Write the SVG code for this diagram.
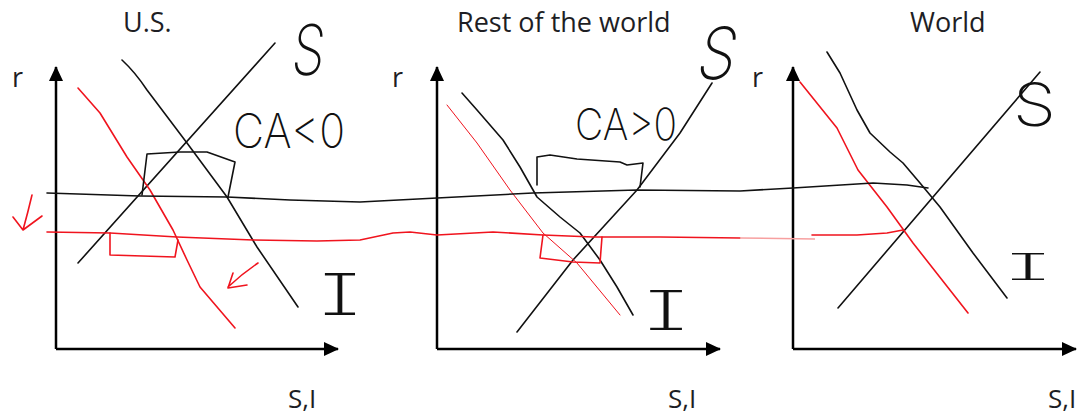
<svg xmlns="http://www.w3.org/2000/svg" width="1081" height="415" viewBox="0 0 1081 415">
<style>
.title{font-family:"Open Sans","Liberation Sans",sans-serif;font-size:27px;fill:#1e1e24}
.axl{font-family:"Open Sans","Liberation Sans",sans-serif;font-size:26px;fill:#1e1e24}
.hand{font-family:"Inter","Open Sans",sans-serif;font-weight:200;fill:#111}
.handI{font-family:"Inter","Open Sans",sans-serif;font-weight:200;fill:#111;text-anchor:middle;font-feature-settings:"cv08" 1}
.axis{stroke:#000;stroke-width:2.5;fill:none}
.blk{stroke:#111;stroke-width:1.6;fill:none;stroke-linejoin:round;stroke-linecap:round}
.red{stroke:#f0141e;stroke-width:1.6;fill:none;stroke-linejoin:round;stroke-linecap:round}
.redthin{stroke:#f0141e;stroke-width:1;fill:none;stroke-linejoin:round;stroke-linecap:round}
.redfaint{stroke:#f7a0a0;stroke-width:1.5;fill:none}
</style>
<defs>
<marker id="ah" markerWidth="16" markerHeight="16" refX="14" refY="7" orient="auto" markerUnits="userSpaceOnUse">
<path d="M0,0 L15,7 L0,14 Z" fill="#000"/>
</marker>
</defs>
<rect width="1081" height="415" fill="#fff"/>

<g id="panel-us">
<text class="title" x="123" y="32">U.S.</text>
<text class="title" x="12" y="87">r</text>
<text class="axl" x="288" y="408">S,I</text>
<line class="axis" x1="56" y1="349" x2="56" y2="67" marker-end="url(#ah)"/>
<line class="axis" x1="56" y1="349" x2="338" y2="349" marker-end="url(#ah)"/>
<path class="blk" d="M78,263 L275,43"/>
<path class="blk" d="M122,60 Q135,72 147,90 L187,143 L227,197 L257,247 L298,307"/>
<path class="red" d="M78,88 L100,113 L127,157 L150,190 L173,230 L187,260 L200,287 L235,328"/>
<path class="blk" d="M142,195 L147,154 L180,152 L207,152 L235,162 L228,197"/>
<path class="red" d="M110,233 L110,255 L175,257 L178,240"/>
<path class="red" d="M32,195 Q28,212 23,230 M13,217 L23,230 L42,216"/>
<path class="red" d="M258,263 Q243,273 228,287 M233,273 L228,288 L247,285"/>
<text class="hand" x="233" y="148" font-size="48" textLength="112" lengthAdjust="spacingAndGlyphs">CA&lt;0</text>
<text class="hand" font-size="70" transform="translate(290,75) scale(0.75,1) skewX(-8)">S</text>
<text class="handI" font-size="58" transform="translate(340,315) scale(1.8,1)">I</text>
</g>

<g id="panel-row">
<text class="title" x="457" y="32">Rest of the world</text>
<text class="title" x="392" y="87">r</text>
<text class="axl" x="668" y="408">S,I</text>
<line class="axis" x1="437" y1="349" x2="437" y2="67" marker-end="url(#ah)"/>
<line class="axis" x1="437" y1="349" x2="720" y2="349" marker-end="url(#ah)"/>
<path class="blk" d="M517,332 L573,260 L637,190 L680,133 L712,83"/>
<path class="blk" d="M462,93 L477,110 L503,140 L520,167 L537,197 L560,217 L580,233 L600,260 L617,287 L633,315"/>
<path class="redthin" d="M447,105 L477,143 L510,190 L543,233 L577,263 L620,315"/>
<path class="blk" d="M537,185 L537,157 L550,155 L577,159 L620,162 L627,165 L643,163 L640,187"/>
<path class="red" d="M543,235 L540,258 L573,262 L600,263 L602,237"/>
<text class="hand" x="575" y="140" font-size="44" textLength="102" lengthAdjust="spacingAndGlyphs">CA&gt;0</text>
<text class="hand" font-size="72" transform="translate(694,79) scale(0.85,1) skewX(-14)">S</text>
<text class="handI" font-size="55" transform="translate(666,330) scale(2,1)">I</text>
</g>

<g id="panel-world">
<text class="title" x="910" y="32">World</text>
<text class="title" x="752" y="87">r</text>
<text class="axl" x="1048" y="408">S,I</text>
<line class="axis" x1="793" y1="349" x2="793" y2="67" marker-end="url(#ah)"/>
<line class="axis" x1="793" y1="349" x2="1076" y2="349" marker-end="url(#ah)"/>
<path class="blk" d="M838,308 L1040,72"/>
<path class="blk" d="M827,52 L840,73 L857,110 L870,133 L890,152 L903,163 L920,183 L940,207 L973,253 L1007,298"/>
<path class="red" d="M800,82 L837,128 L858,170 L887,207 L913,243 L968,313"/>
<text class="hand" font-size="60" transform="translate(1013,126) scale(1.15,1)">S</text>
<text class="handI" font-size="37" transform="translate(1028,280) scale(3,1)">I</text>
</g>

<g id="connectors">
<path class="blk" d="M47,193 L140,196 L227,197 L290,200 L360,202 L437,198 L533,193 L637,190 L740,191 L793,188 L873,183 L907,185 L928,188"/>
<path class="red" d="M47,232 L110,233 L177,237 L253,240 L317,241 L360,240 L393,233 L410,232 L437,235 L493,232 L543,235 L593,237 L660,237 L740,238"/>
<path class="redfaint" d="M740,238 L815,239"/>
<path class="red" d="M812,235 L857,235 L887,233 L903,230"/>
</g>
</svg>
